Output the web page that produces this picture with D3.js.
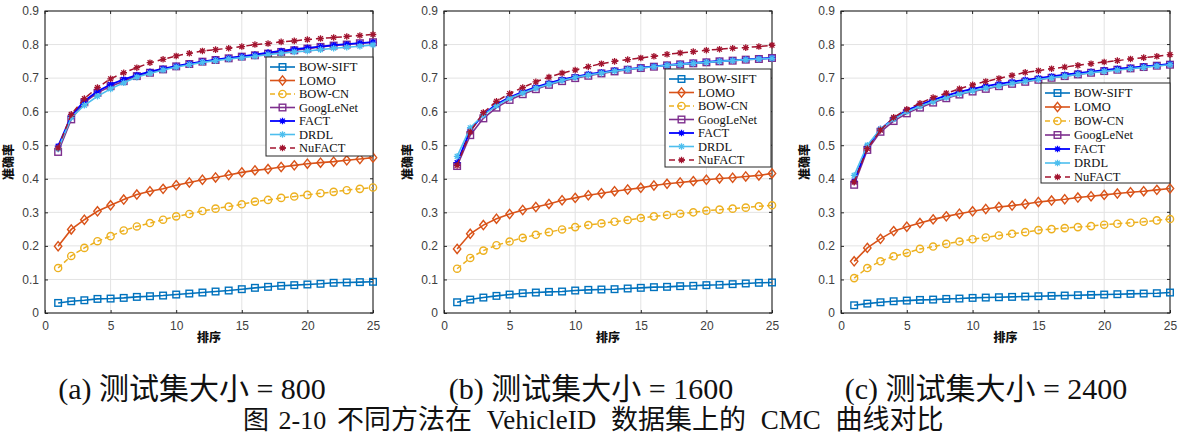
<!DOCTYPE html>
<html><head><meta charset="utf-8">
<script src="https://cdn.jsdelivr.net/npm/d3@7"></script>
<style>body{margin:0;background:#fff}svg{display:block}</style>
</head><body>
<script>
// ---------- data ----------
const ranks = [1,2,3,4,5,6,7,8,9,10,11,12,13,14,15,16,17,18,19,20,21,22,23,24,25];
const xTicks = [0,5,10,15,20,25];
const yTicks = [0,0.1,0.2,0.3,0.4,0.5,0.6,0.7,0.8,0.9];
const methods = ["BOW-SIFT","LOMO","BOW-CN","GoogLeNet","FACT","DRDL","NuFACT"];
const captions = ["(a) 测试集大小 = 800","(b) 测试集大小 = 1600","(c) 测试集大小 = 2400"];
const figNumber = "图 2-10";
const figTitle = "不同方法在 VehicleID 数据集上的 CMC 曲线对比";
const yLabel = "准确率";
const xLabel = "排序";

// Panel (a) test size 800
const a_bowSift = [0.030,0.035,0.038,0.042,0.043,0.045,0.048,0.050,0.052,0.055,0.058,0.061,0.064,0.067,0.071,0.075,0.078,0.081,0.083,0.085,0.087,0.090,0.091,0.092,0.093];
const a_lomo    = [0.199,0.249,0.278,0.303,0.321,0.338,0.353,0.363,0.370,0.381,0.389,0.397,0.404,0.411,0.419,0.425,0.429,0.435,0.440,0.445,0.448,0.451,0.455,0.459,0.463];
const a_bowCn   = [0.134,0.170,0.194,0.214,0.229,0.246,0.258,0.268,0.278,0.288,0.295,0.304,0.311,0.317,0.324,0.332,0.337,0.343,0.347,0.352,0.357,0.361,0.366,0.370,0.374];
const a_google  = [0.480,0.577,0.628,0.656,0.676,0.691,0.706,0.716,0.726,0.735,0.742,0.749,0.754,0.759,0.764,0.768,0.773,0.778,0.783,0.788,0.793,0.797,0.800,0.804,0.807];
const a_fact    = [0.497,0.587,0.632,0.661,0.681,0.696,0.709,0.719,0.728,0.736,0.743,0.749,0.755,0.760,0.765,0.770,0.776,0.781,0.786,0.790,0.794,0.798,0.801,0.804,0.807];
const a_drdl    = [0.489,0.582,0.619,0.646,0.668,0.686,0.703,0.714,0.724,0.733,0.740,0.747,0.752,0.757,0.761,0.765,0.770,0.774,0.778,0.781,0.785,0.789,0.792,0.795,0.799];
const a_nufact  = [0.492,0.592,0.639,0.672,0.698,0.716,0.731,0.746,0.756,0.766,0.774,0.781,0.785,0.789,0.794,0.800,0.803,0.808,0.811,0.815,0.818,0.821,0.824,0.827,0.830];

// Panel (b) test size 1600
const b_bowSift = [0.032,0.040,0.046,0.051,0.055,0.059,0.061,0.063,0.064,0.067,0.069,0.070,0.071,0.073,0.075,0.077,0.078,0.080,0.081,0.083,0.084,0.086,0.088,0.090,0.091];
const b_lomo    = [0.191,0.236,0.262,0.281,0.295,0.307,0.316,0.325,0.336,0.343,0.351,0.357,0.363,0.368,0.373,0.380,0.385,0.389,0.393,0.397,0.401,0.403,0.407,0.410,0.416];
const b_bowCn   = [0.132,0.164,0.186,0.202,0.213,0.224,0.233,0.241,0.249,0.256,0.262,0.267,0.272,0.277,0.283,0.288,0.292,0.296,0.300,0.305,0.308,0.311,0.314,0.318,0.321];
const b_google  = [0.438,0.530,0.580,0.612,0.635,0.652,0.667,0.680,0.691,0.700,0.707,0.714,0.720,0.725,0.730,0.734,0.738,0.741,0.744,0.747,0.750,0.752,0.755,0.757,0.760];
const b_fact    = [0.448,0.545,0.592,0.622,0.643,0.659,0.673,0.685,0.696,0.704,0.712,0.717,0.723,0.727,0.731,0.735,0.739,0.742,0.745,0.748,0.751,0.753,0.756,0.758,0.760];
const b_drdl    = [0.467,0.552,0.590,0.618,0.640,0.656,0.670,0.682,0.693,0.702,0.709,0.715,0.721,0.726,0.730,0.734,0.738,0.741,0.744,0.747,0.750,0.752,0.755,0.757,0.759];
const b_nufact  = [0.440,0.540,0.597,0.631,0.654,0.672,0.689,0.703,0.715,0.724,0.734,0.743,0.750,0.755,0.760,0.765,0.771,0.775,0.779,0.783,0.786,0.789,0.791,0.794,0.798];

// Panel (c) test size 2400
const c_bowSift = [0.023,0.028,0.032,0.035,0.037,0.039,0.040,0.042,0.043,0.045,0.046,0.047,0.048,0.049,0.050,0.051,0.052,0.053,0.054,0.055,0.056,0.057,0.058,0.059,0.061];
const c_lomo    = [0.154,0.194,0.221,0.244,0.257,0.268,0.279,0.288,0.296,0.303,0.310,0.316,0.320,0.325,0.331,0.335,0.339,0.344,0.348,0.352,0.356,0.360,0.363,0.367,0.371];
const c_bowCn   = [0.104,0.134,0.154,0.169,0.179,0.191,0.198,0.206,0.213,0.220,0.225,0.231,0.236,0.241,0.247,0.250,0.253,0.256,0.259,0.263,0.266,0.269,0.272,0.276,0.280];
const c_google  = [0.382,0.486,0.540,0.572,0.595,0.612,0.627,0.640,0.651,0.660,0.668,0.676,0.683,0.689,0.695,0.701,0.706,0.711,0.716,0.721,0.725,0.729,0.733,0.737,0.740];
const c_fact    = [0.393,0.495,0.548,0.580,0.604,0.620,0.635,0.648,0.659,0.668,0.676,0.683,0.689,0.695,0.700,0.705,0.710,0.715,0.719,0.724,0.728,0.731,0.735,0.738,0.742];
const c_drdl    = [0.410,0.500,0.548,0.578,0.600,0.616,0.630,0.642,0.653,0.662,0.670,0.677,0.684,0.690,0.696,0.701,0.706,0.711,0.716,0.720,0.724,0.728,0.732,0.736,0.740];
const c_nufact  = [0.390,0.490,0.545,0.583,0.607,0.625,0.642,0.655,0.668,0.680,0.690,0.699,0.708,0.717,0.722,0.728,0.733,0.738,0.743,0.748,0.752,0.757,0.761,0.765,0.770];

const panelSeries = [
  [a_bowSift,a_lomo,a_bowCn,a_google,a_fact,a_drdl,a_nufact],
  [b_bowSift,b_lomo,b_bowCn,b_google,b_fact,b_drdl,b_nufact],
  [c_bowSift,c_lomo,c_bowCn,c_google,c_fact,c_drdl,c_nufact]
];

// ---------- styles ----------
const colors  = ["#0072BD","#D95319","#EDB120","#7E2F8E","#0000FF","#4DBEEE","#A2142F"];
const markers = ["square","diamond","circle","square","star","star","star"];
const dashes  = [null,null,"5,3",null,null,null,"6,4"];
const widths  = [1.6,1.6,1.5,1.6,1.8,1.6,1.5];

const W = 1180, H = 434;
const panels = [
  {l:45,  r:373,  t:11, b:313, leg:{x:266, y:57, w:107, h:99, row:13.5}, cx:192},
  {l:444, r:772,  t:11, b:313, leg:{x:665, y:69, w:106, h:98, row:13.5}, cx:591},
  {l:841, r:1170, t:11, b:313, leg:{x:1041,y:83, w:129, h:100,row:14}, cx:986}
];

const svg = d3.select("body").append("svg").attr("width",W).attr("height",H);

function drawMarker(g, type, x, y, color){
  if(type==="square"){
    g.append("rect").attr("x",x-3.3).attr("y",y-3.3).attr("width",6.6).attr("height",6.6)
      .attr("fill","none").attr("stroke",color).attr("stroke-width",1.4);
  } else if(type==="diamond"){
    g.append("path").attr("d",`M${x},${y-4.6}L${x+3.7},${y}L${x},${y+4.6}L${x-3.7},${y}Z`)
      .attr("fill","none").attr("stroke",color).attr("stroke-width",1.4);
  } else if(type==="circle"){
    g.append("circle").attr("cx",x).attr("cy",y).attr("r",3.6)
      .attr("fill","none").attr("stroke",color).attr("stroke-width",1.4);
  } else {
    const s=3.3, d=2.4;
    g.append("path").attr("d",`M${x-s},${y}L${x+s},${y}M${x},${y-s}L${x},${y+s}M${x-d},${y-d}L${x+d},${y+d}M${x-d},${y+d}L${x+d},${y-d}`)
      .attr("fill","none").attr("stroke",color).attr("stroke-width",1.3);
  }
}

panels.forEach((p,pi)=>{
  const x = d3.scaleLinear().domain([0,25]).range([p.l,p.r]);
  const y = d3.scaleLinear().domain([0,0.9]).range([p.b,p.t]);
  const g = svg.append("g");

  // grid
  g.selectAll(".gx").data(xTicks).enter().append("line")
    .attr("x1",d=>x(d)).attr("x2",d=>x(d)).attr("y1",p.t).attr("y2",p.b)
    .attr("stroke","#e3e3e3").attr("stroke-width",1);
  g.selectAll(".gy").data(yTicks).enter().append("line")
    .attr("x1",p.l).attr("x2",p.r).attr("y1",d=>y(d)).attr("y2",d=>y(d))
    .attr("stroke","#e3e3e3").attr("stroke-width",1);

  // axes
  const xa = g.append("g").attr("transform",`translate(0,${p.b})`)
    .call(d3.axisBottom(x).tickValues(xTicks).tickSize(-3).tickPadding(8).tickFormat(d3.format("d")));
  const ya = g.append("g").attr("transform",`translate(${p.l},0)`)
    .call(d3.axisLeft(y).tickValues(yTicks).tickSize(-3).tickPadding(6).tickFormat(d=>d===0?"0":d3.format(".1f")(d)));
  [xa,ya].forEach(a=>{
    a.select(".domain").remove();
    a.selectAll(".tick line").attr("stroke","#262626");
    a.selectAll(".tick text").attr("fill","#404040").attr("font-family","Liberation Sans, Arial, sans-serif").attr("font-size",12);
  });
  // top/right ticks
  g.selectAll(".tt").data(xTicks).enter().append("line")
    .attr("x1",d=>x(d)).attr("x2",d=>x(d)).attr("y1",p.t).attr("y2",p.t+3).attr("stroke","#262626");
  g.selectAll(".tr").data(yTicks).enter().append("line")
    .attr("x1",p.r).attr("x2",p.r-3).attr("y1",d=>y(d)).attr("y2",d=>y(d)).attr("stroke","#262626");
  // box
  g.append("rect").attr("x",p.l).attr("y",p.t).attr("width",p.r-p.l).attr("height",p.b-p.t)
    .attr("fill","none").attr("stroke","#262626").attr("stroke-width",1.1);

  // axis labels
  g.append("text").attr("transform",`translate(${p.l-32},${(p.t+p.b)/2}) rotate(-90)`)
    .attr("text-anchor","middle").attr("font-family","Noto Sans CJK SC").attr("font-weight",900)
    .attr("font-size",12).attr("fill","#111").text(yLabel);
  g.append("text").attr("x",(p.l+p.r)/2).attr("y",p.b+29)
    .attr("text-anchor","middle").attr("font-family","Noto Sans CJK SC").attr("font-weight",900)
    .attr("font-size",12).attr("fill","#111").text(xLabel);

  // series
  panelSeries[pi].forEach((vals,si)=>{
    const pts = ranks.map((r,i)=>[r,vals[i]]);
    const line = d3.line().x(d=>x(d[0])).y(d=>y(d[1]));
    g.append("path").attr("d",line(pts)).attr("fill","none")
      .attr("stroke",colors[si]).attr("stroke-width",widths[si])
      .attr("stroke-dasharray",dashes[si]);
    const mg = g.append("g");
    pts.forEach(d=>drawMarker(mg,markers[si],x(d[0]),y(d[1]),colors[si]));
  });

  // legend
  const L = p.leg;
  const lg = g.append("g");
  lg.append("rect").attr("x",L.x).attr("y",L.y).attr("width",L.w).attr("height",L.h)
    .attr("fill","#fff").attr("stroke","#262626").attr("stroke-width",1);
  methods.forEach((m,si)=>{
    const yy = L.y + 10 + si*L.row;
    lg.append("line").attr("x1",L.x+4).attr("x2",L.x+29).attr("y1",yy).attr("y2",yy)
      .attr("stroke",colors[si]).attr("stroke-width",widths[si]).attr("stroke-dasharray",dashes[si]);
    drawMarker(lg,markers[si],L.x+16.5,yy,colors[si]);
    lg.append("text").attr("x",L.x+33).attr("y",yy+4.2)
      .attr("font-family","'Liberation Serif', 'Times New Roman', serif").attr("font-size",12.5)
      .attr("fill","#111").text(m);
  });

  // caption
  svg.append("text").attr("x",p.cx).attr("y",399).attr("text-anchor","middle")
    .attr("font-family","'Liberation Serif', 'Noto Sans CJK SC', serif").attr("font-size",30)
    .attr("fill","#111").text(captions[pi]);
});

svg.append("text").attr("x",243).attr("y",429)
  .attr("font-family","'Liberation Serif', 'Noto Sans CJK SC', serif").attr("font-size",26)
  .attr("word-spacing",3)
  .attr("fill","#111").text(figNumber);
svg.append("text").attr("x",337).attr("y",429)
  .attr("font-family","'Liberation Serif', 'Noto Sans CJK SC', serif").attr("font-size",27)
  .attr("word-spacing",8)
  .attr("fill","#111").text(figTitle);
</script>
</body></html>
